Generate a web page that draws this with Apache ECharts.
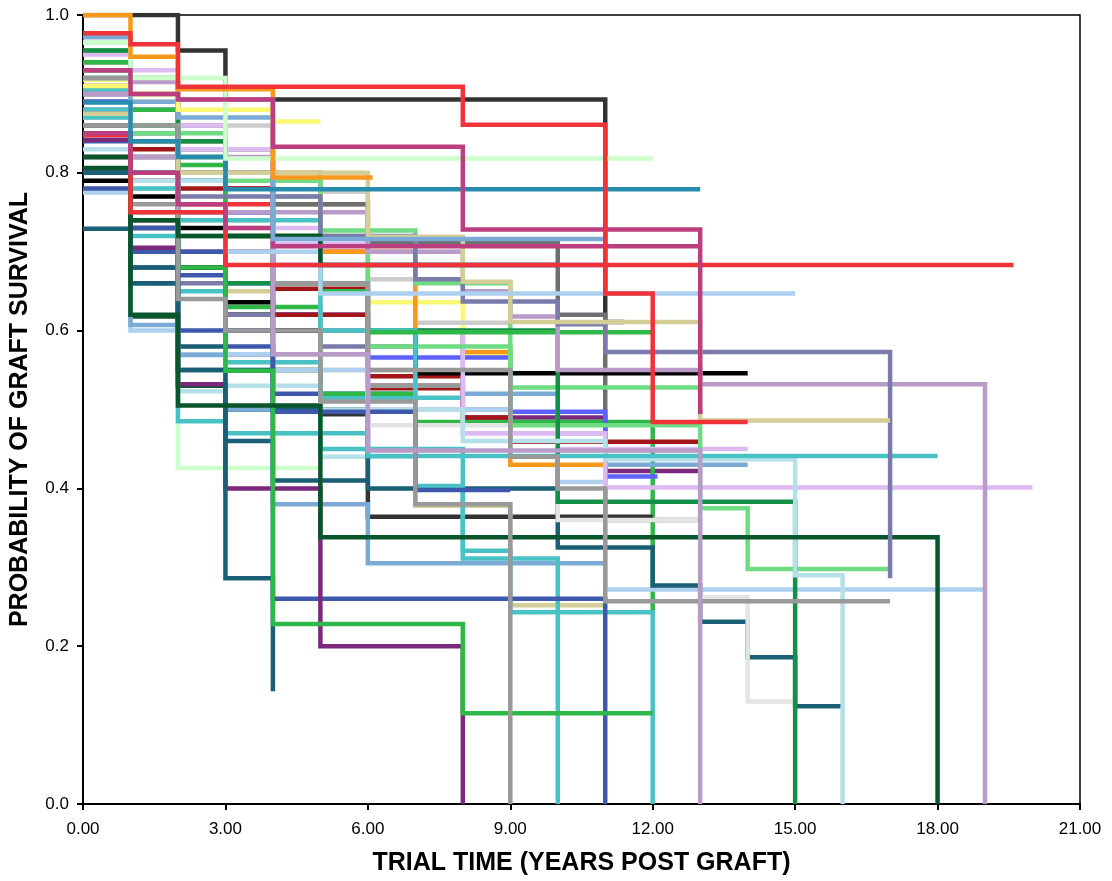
<!DOCTYPE html>
<html>
<head>
<meta charset="utf-8">
<title>Graft survival by trial</title>
<script src="https://cdn.jsdelivr.net/npm/echarts@6/dist/echarts.min.js"></script>
<style>
  html, body { margin: 0; padding: 0; background: #fff; }
  #chart { width: 1112px; height: 881px; }
</style>
</head>
<body>
<div id="chart"></div>
<script>
// Axis ticks
const yearTicks = [0, 3, 6, 9, 12, 15, 18, 21];
const survivalTicks = [0, 0.2, 0.4, 0.6, 0.8, 1.0];

// One entry per group: colour, Kaplan-Meier steps [year, survival], end of follow-up (years)
const groupColors = [
  // shorter follow-up groups
  '#FBF873', '#EF3338', '#7C287D', '#CCFFCC', '#CCCCCC', '#A21619', '#DDBAF1', '#6FDC84',
  '#B5E0EA', '#999999', '#0A562C', '#D3CE97', '#5D61FF', '#000000', '#EF3338', '#3E58AC',
  '#48C2C5', '#7B7BAA', '#1A5F76', '#B89BC9', '#F8981D', '#2EB848',
  // longer follow-up groups
  '#333333', '#6F6F6F', '#333333', '#D3CE97', '#5D61FF', '#5D61FF', '#A21619', '#ACD0EE',
  '#7AAAD5', '#7AAAD5', '#DDBAF1', '#000000', '#DDBAF1', '#1A5F76', '#E4E4E4', '#6FDC84',
  '#6FDC84', '#138F47', '#B5E0EA', '#48C2C5', '#48C2C5', '#48C2C5', '#3E58AC', '#3E58AC',
  '#7C287D', '#1A5F76', '#2EB848', '#2EB848', '#0A562C', '#999999', '#999999', '#B89BC9',
  '#B89BC9', '#7B7BAA', '#D3CE97', '#ACD0EE', '#0A562C', '#EF3338', '#BB3F7F', '#7AAAD5',
  '#FBF873', '#278BAC', '#CCFFCC', '#F8981D', '#BB3F7F', '#EF3338'
];

const survivalSteps = [
  [[0, 0.918], [1, 0.890], [2, 0.800], [4, 0.760], [6, 0.636], [8, 0.570]],
  [[0, 0.860], [1, 0.840], [3, 0.780]],
  [[0, 0.820], [1, 0.740], [2, 0.700], [4, 0.600], [6, 0.530], [8, 0.490], [11, 0.422]],
  [[0, 0.790], [1, 0.700], [2, 0.426]],
  [[0, 0.920], [1, 0.880], [2, 0.860], [4, 0.800], [5, 0.776], [6, 0.665], [7, 0.610]],
  [[0, 0.910], [1, 0.790], [2, 0.750], [3, 0.720], [4, 0.653], [6, 0.527]],
  [[0, 0.900], [1, 0.860], [3, 0.800], [4, 0.620]],
  [[0, 0.955], [1, 0.900], [2, 0.840], [3, 0.800], [4, 0.770]],
  [[0, 0.830], [1, 0.780], [2, 0.523], [3, 0.600], [4, 0.470], [5, 0.440]],
  [[0, 0.920], [1, 0.860], [3, 0.620], [4, 0.570], [6, 0.530], [8, 0.500]],
  [[0, 0.820], [1, 0.618], [2, 0.530], [3, 0.500]],
  [[0, 0.870], [1, 0.850], [2, 0.800], [4, 0.760], [5, 0.720], [6, 0.700]],
  [[0, 0.900], [1, 0.880], [2, 0.790], [3, 0.660], [4, 0.600]],
  [[0, 0.800], [1, 0.730], [2, 0.680], [3, 0.620]],
  [[0, 0.850], [1, 0.840], [2, 0.760], [4, 0.720], [5, 0.700]],
  [[0, 0.800], [1, 0.680], [2, 0.600], [3, 0.570], [4, 0.520]],
  [[0, 0.905], [1, 0.840], [2, 0.650], [3, 0.550], [5, 0.515]],
  [[0, 0.860], [1, 0.820], [2, 0.660], [3, 0.620], [5, 0.580]],
  [[0, 0.800], [1, 0.660], [2, 0.580], [3, 0.460], [4, 0.410]],
  [[0, 0.890], [1, 0.850], [2, 0.820], [4, 0.760]],
  [[0, 0.940], [1, 0.900], [2, 0.800], [5, 0.700], [7, 0.600], [8, 0.573], [9, 0.430]],
  [[0, 0.940], [1, 0.880], [2, 0.820], [3, 0.630], [5, 0.520], [7, 0.484], [12, 0.243]],

  [[0, 1.000], [2, 0.955], [3, 0.893], [11, 0.611]],
  [[0, 0.890], [1, 0.860], [2, 0.830], [4, 0.760], [6, 0.712], [10, 0.620], [11, 0.360]],
  [[0, 0.930], [1, 0.820], [2, 0.680], [3, 0.600], [4, 0.550], [5, 0.494], [6, 0.364]],
  [[0, 0.870], [1, 0.750], [3, 0.650], [4, 0.550], [7, 0.378], [9, 0.252]],
  [[0, 0.890], [1, 0.860], [2, 0.790], [3, 0.750], [4, 0.683]],
  [[0, 0.880], [1, 0.800], [2, 0.750], [4, 0.620], [6, 0.566], [9, 0.497], [11, 0.415]],
  [[0, 0.900], [1, 0.830], [2, 0.780], [4, 0.620], [6, 0.542], [8, 0.490], [9, 0.459]],
  [[0, 0.775], [1, 0.600], [2, 0.570], [4, 0.550], [6, 0.500], [9, 0.440], [10, 0.408], [11, 0.272]],
  [[0, 0.972], [1, 0.607], [2, 0.569], [3, 0.500], [4, 0.380], [6, 0.305]],
  [[0, 0.900], [1, 0.850], [2, 0.800], [4, 0.660], [6, 0.600], [8, 0.520], [10, 0.470], [11, 0.430]],
  [[0, 0.940], [1, 0.860], [2, 0.830], [4, 0.710], [6, 0.500], [8, 0.470], [10, 0.450]],
  [[0, 0.790], [1, 0.770], [2, 0.730], [3, 0.636], [4, 0.600], [7, 0.546]],
  [[0, 0.950], [1, 0.930], [2, 0.860], [3, 0.730], [5, 0.600], [8, 0.470], [11, 0.401]],
  [[0, 0.800], [1, 0.680], [2, 0.550], [4, 0.500], [6, 0.400], [10, 0.325], [12, 0.277], [13, 0.231], [14, 0.186], [15, 0.124]],
  [[0, 0.870], [1, 0.820], [2, 0.740], [4, 0.570], [6, 0.480], [10, 0.360], [13, 0.262], [14, 0.130]],
  [[0, 0.930], [1, 0.850], [3, 0.720], [6, 0.580], [9, 0.528]],
  [[0, 0.955], [1, 0.860], [2, 0.790], [5, 0.727], [7, 0.660], [9, 0.480], [13, 0.375], [14, 0.298]],
  [[0, 0.955], [1, 0.920], [2, 0.840], [3, 0.660], [6, 0.600], [10, 0.383], [15, 0.000]],
  [[0, 0.900], [1, 0.790], [3, 0.530], [5, 0.500], [8, 0.460], [11, 0.437], [15, 0.290], [16, 0.000]],
  [[0, 0.920], [1, 0.780], [2, 0.485], [3, 0.470], [6, 0.441]],
  [[0, 0.870], [1, 0.720], [3, 0.560], [5, 0.450], [8, 0.311], [10, 0.000]],
  [[0, 0.880], [1, 0.800], [2, 0.740], [5, 0.600], [7, 0.403], [8, 0.321], [9, 0.243], [12, 0.000]],
  [[0, 0.780], [1, 0.700], [3, 0.600], [4, 0.497], [7, 0.398]],
  [[0, 0.840], [1, 0.730], [2, 0.670], [3, 0.580], [4, 0.260], [11, 0.000]],
  [[0, 0.842], [1, 0.705], [2, 0.532], [3, 0.400], [5, 0.200], [8, 0.000]],
  [[0, 0.729], [1, 0.660], [2, 0.550], [3, 0.286], [4, 0.143]],
  [[0, 0.930], [1, 0.800], [2, 0.680], [3, 0.549], [4, 0.228], [8, 0.115]],
  [[0, 0.940], [1, 0.860], [2, 0.810], [3, 0.720], [5, 0.650], [6, 0.598]],
  [[0, 0.806], [1, 0.620], [2, 0.505], [5, 0.338], [18, 0.000]],
  [[0, 0.860], [1, 0.760], [2, 0.640], [3, 0.600], [5, 0.510], [7, 0.380], [9, 0.000]],
  [[0, 0.920], [1, 0.860], [2, 0.800], [4, 0.660], [6, 0.550], [9, 0.440], [10, 0.400], [11, 0.257]],
  [[0, 0.900], [1, 0.820], [2, 0.750], [4, 0.570], [6, 0.448], [13, 0.000]],
  [[0, 0.930], [1, 0.915], [2, 0.893], [4, 0.750], [6, 0.700], [8, 0.650], [9, 0.618], [10, 0.550], [13, 0.532], [19, 0.000]],
  [[0, 0.875], [1, 0.800], [2, 0.770], [5, 0.720], [7, 0.665], [8, 0.637], [10, 0.608], [11, 0.573], [17, 0.286]],
  [[0, 0.875], [1, 0.840], [2, 0.800], [6, 0.719], [8, 0.662], [9, 0.611], [13, 0.486]],
  [[0, 0.965], [1, 0.750], [3, 0.700], [5, 0.647]],
  [[0, 0.820], [1, 0.740], [2, 0.720], [5, 0.683]],
  [[0, 0.848], [1, 0.750], [3, 0.683]],
  [[0, 0.850], [1, 0.800], [2, 0.760], [3, 0.730], [4, 0.707]],
  [[0, 0.972], [1, 0.890], [2, 0.870], [4, 0.716]],
  [[0, 0.910], [1, 0.900], [2, 0.880], [4, 0.865]],
  [[0, 0.889], [1, 0.840], [2, 0.820], [3, 0.779]],
  [[0, 0.965], [1, 0.920], [3, 0.818]],
  [[0, 1.000], [1, 0.947], [2, 0.906], [4, 0.794]],
  [[0, 0.930], [1, 0.900], [2, 0.893], [4, 0.833], [8, 0.728], [13, 0.497]],
  [[0, 0.977], [1, 0.963], [2, 0.909], [8, 0.861], [11, 0.647], [12, 0.484]]
];

const followUpEnd = [
  9, 4, 13, 5, 9, 8, 5, 5,
  7, 9, 6, 8, 6, 5, 6, 7,
  8, 7, 6, 6, 11, 12,
  11.4, 13, 12, 11, 11, 12.1, 13, 19,
  11, 14, 14, 14, 20, 16, 15, 13,
  17, 15, 16, 18, 10, 12, 9, 11,
  8, 4, 12, 12, 18, 9, 17, 13,
  19, 17, 17, 15, 10, 19.6, 13, 11,
  5, 13, 12, 6.1, 13.05, 14
];

const FONT = 'Liberation Sans, Arial, sans-serif';

// Build one step series per group
const series = survivalSteps.map((steps, i) => {
  const pts = steps.map(s => [s[0], s[1]]);
  const last = pts[pts.length - 1];
  if (followUpEnd[i] > last[0]) pts.push([followUpEnd[i], last[1]]);
  return {
    type: 'line',
    step: 'end',
    data: pts,
    showSymbol: false,
    silent: true,
    z: 2,
    lineStyle: { color: groupColors[i], width: 4.5, cap: 'butt', join: 'miter' },
    itemStyle: { color: groupColors[i] }
  };
});

const chart = echarts.init(document.getElementById('chart'), null, { renderer: 'canvas' });
chart.setOption({
  animation: false,
  backgroundColor: '#ffffff',
  grid: {
    left: 80, right: 32, top: 15, bottom: 75,
    show: true, borderColor: '#000', borderWidth: 1.5, backgroundColor: 'transparent'
  },
  xAxis: {
    type: 'value',
    min: yearTicks[0], max: yearTicks[yearTicks.length - 1], interval: 3,
    name: 'TRIAL TIME (YEARS POST GRAFT)',
    nameLocation: 'middle', nameGap: 47,
    nameTextStyle: { fontFamily: FONT, fontWeight: 'bold', fontSize: 25, color: '#000' },
    axisLine: { show: true, lineStyle: { color: '#000', width: 2 } },
    axisTick: { show: true, length: 6, lineStyle: { color: '#000', width: 2 } },
    axisLabel: {
      fontFamily: FONT, fontSize: 17, color: '#000', margin: 17,
      formatter: v => yearTicks.includes(v) ? v.toFixed(2) : ''
    },
    splitLine: { show: false }
  },
  yAxis: {
    type: 'value',
    min: 0, max: 1, interval: 0.2,
    name: 'PROBABILITY OF GRAFT SURVIVAL',
    nameLocation: 'middle', nameGap: 50,
    nameTextStyle: { fontFamily: FONT, fontWeight: 'bold', fontSize: 25, color: '#000' },
    axisLine: { show: true, lineStyle: { color: '#000', width: 2 } },
    axisTick: { show: true, length: 6, lineStyle: { color: '#000', width: 2 } },
    axisLabel: {
      fontFamily: FONT, fontSize: 17, color: '#000', margin: 14,
      formatter: v => survivalTicks.some(t => Math.abs(t - v) < 1e-9) ? v.toFixed(1) : ''
    },
    splitLine: { show: false }
  },
  series: series
});
</script>
</body>
</html>
